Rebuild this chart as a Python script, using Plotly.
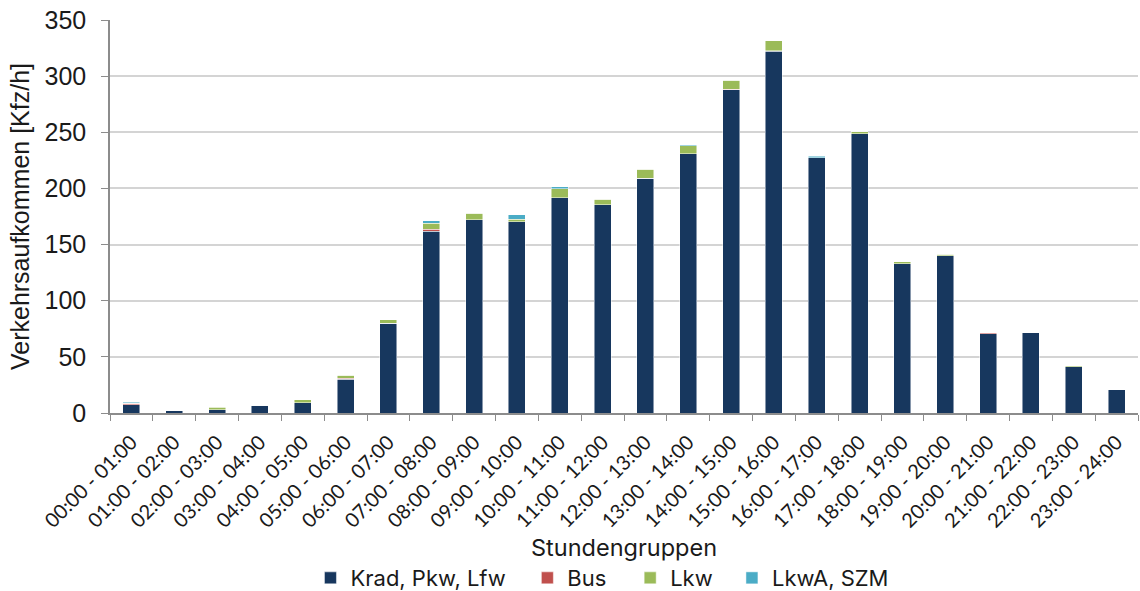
import plotly.graph_objects as go

hours = ["00:00 - 01:00", "01:00 - 02:00", "02:00 - 03:00", "03:00 - 04:00", "04:00 - 05:00",
         "05:00 - 06:00", "06:00 - 07:00", "07:00 - 08:00", "08:00 - 09:00", "09:00 - 10:00",
         "10:00 - 11:00", "11:00 - 12:00", "12:00 - 13:00", "13:00 - 14:00", "14:00 - 15:00",
         "15:00 - 16:00", "16:00 - 17:00", "17:00 - 18:00", "18:00 - 19:00", "19:00 - 20:00",
         "20:00 - 21:00", "21:00 - 22:00", "22:00 - 23:00", "23:00 - 24:00"]

krad_pkw_lfw = [7.5, 2, 3, 7, 9, 30, 80, 162, 172, 170.5, 191.5, 185.5,
                209, 231, 288, 322, 227.5, 248.5, 133, 140, 70.5, 71.5, 41, 20.5]
bus = [1, 0, 0, 0, 0, 1, 0, 1.5, 0, 0, 0, 0,
       0, 0, 0.5, 0.5, 0, 0, 0, 0, 1, 0, 0, 0]
lkw = [0, 0, 2, 0, 3, 2.5, 3, 5.5, 6, 2, 8, 5,
       8, 7, 8, 9, 0, 2, 1.5, 1.5, 0, 0, 1.2, 0]
lkwa_szm = [1, 0, 0.5, 0, 0, 0, 0, 2, 0, 4, 2, 0,
            0, 1, 0, 0, 1, 0, 0, 0, 0, 0, 0, 0]

series = [
    ("Krad, Pkw, Lfw", krad_pkw_lfw, "#17375E", "legend"),
    ("Bus", bus, "#C0504D", "legend2"),
    ("Lkw", lkw, "#9BBB59", "legend3"),
    ("LkwA, SZM", lkwa_szm, "#4BACC6", "legend4"),
]

txt = "#1a1a1a"
axis_col = "#8c8c8c"

fig = go.Figure()
for name, vals, col, leg in series:
    fig.add_trace(go.Bar(
        x=hours, y=vals, name=name, legend=leg, showlegend=True,
        marker=dict(color=col, line=dict(color="rgba(255,255,255,0.6)", width=0.8)),
    ))

# one legend per series so the entries can sit where they are in the original
leg_x = [0.195, 0.406, 0.506, 0.605]
leg_style = dict(orientation="h", xanchor="left", y=-0.42, yanchor="middle",
                 font=dict(family="Inter, sans-serif", size=22, color=txt),
                 bgcolor="rgba(0,0,0,0)", visible=True)

fig.update_layout(
    barmode="stack",
    bargap=0.6,
    width=1140, height=591,
    showlegend=True,
    margin=dict(l=110, r=2, t=20, b=178, autoexpand=False),
    plot_bgcolor="white",
    paper_bgcolor="white",
    font=dict(family="Liberation Sans, Arial, sans-serif", color=txt, size=18),
    legend=dict(x=leg_x[0], **leg_style),
    legend2=dict(x=leg_x[1], **leg_style),
    legend3=dict(x=leg_x[2], **leg_style),
    legend4=dict(x=leg_x[3], **leg_style),
    annotations=[dict(
        text="Stundengruppen", xref="paper", yref="paper", x=0.5, y=-0.3435,
        xanchor="center", yanchor="middle", showarrow=False,
        font=dict(family="Inter, sans-serif", size=23.5, color=txt),
    )],
)
fig.update_xaxes(
    tickangle=-45, tickfont=dict(family="Lato, sans-serif", size=20, color=txt),
    automargin=False, ticklabelstandoff=8,
    showline=True, linecolor=axis_col, linewidth=1.5,
    ticks="outside", tickson="boundaries", ticklen=6, tickcolor=axis_col,
)
fig.update_yaxes(
    range=[0, 350], dtick=50,
    tickfont=dict(family="Liberation Sans, Arial, sans-serif", size=25, color=txt),
    automargin=False, ticklabelstandoff=10,
    showgrid=True, gridcolor="#d4d4d4", gridwidth=1.5,
    showline=True, linecolor=axis_col, linewidth=1.5,
    ticks="outside", ticklen=7, tickcolor=axis_col,
    zeroline=False,
    title=dict(text="Verkehrsaufkommen [Kfz/h]",
               font=dict(family="Liberation Sans, Arial, sans-serif", size=25, color=txt),
               standoff=8),
)

fig.write_html("out.html", config={"displayModeBar": False},
               post_script="document.body.style.margin='0';")
